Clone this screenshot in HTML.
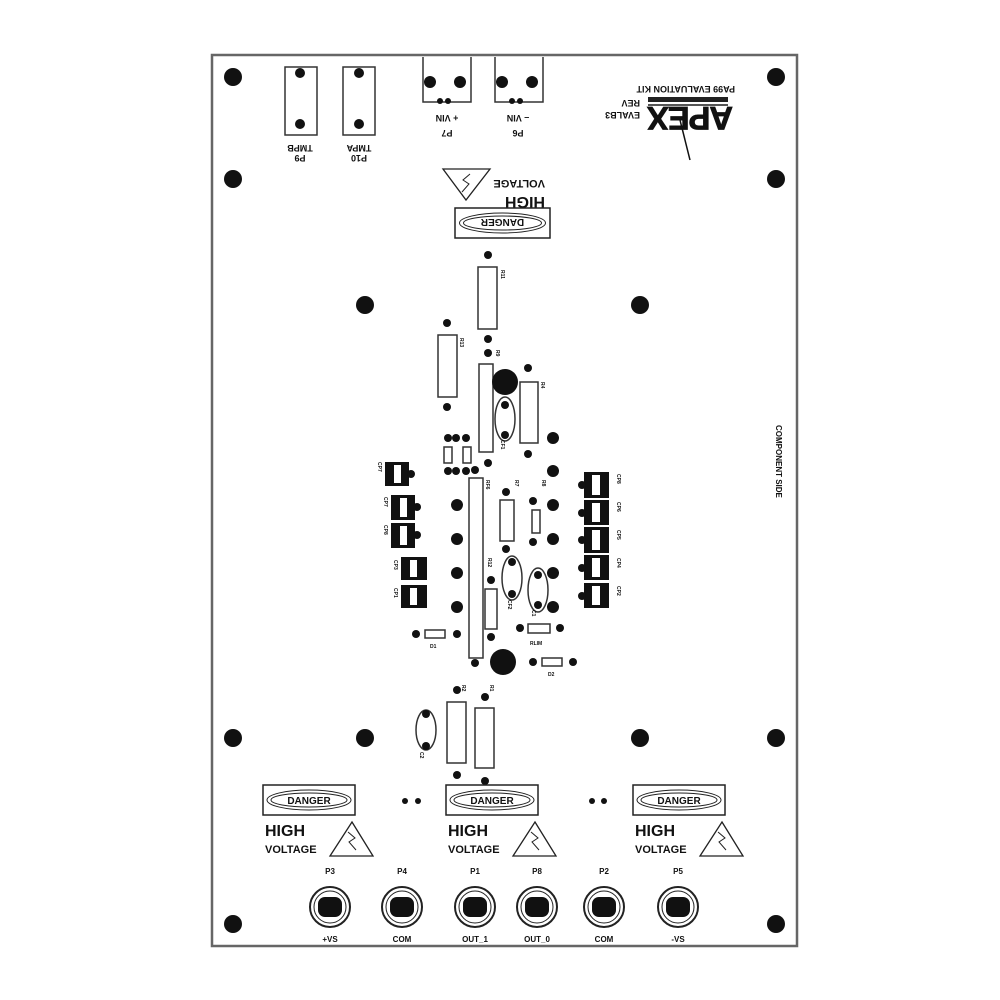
<!DOCTYPE html>
<html><head><meta charset="utf-8"><style>
html,body{margin:0;padding:0;background:#fff}
svg{display:block}
text{font-family:"Liberation Sans",sans-serif;font-weight:bold;fill:#111}
</style></head><body>
<svg width="1000" height="1000" viewBox="0 0 1000 1000" xmlns="http://www.w3.org/2000/svg">
<rect width="1000" height="1000" fill="#fff"/>
<rect x="212" y="55" width="585" height="891" fill="none" stroke="#666" stroke-width="2.5"/>
<g fill="#111">
<circle cx="233" cy="77" r="9"/><circle cx="776" cy="77" r="9"/>
<circle cx="233" cy="179" r="9"/><circle cx="776" cy="179" r="9"/>
<circle cx="233" cy="738" r="9"/><circle cx="776" cy="738" r="9"/>
<circle cx="233" cy="924" r="9"/><circle cx="776" cy="924" r="9"/>
<circle cx="365" cy="305" r="9"/><circle cx="640" cy="305" r="9"/>
<circle cx="365" cy="738" r="9"/><circle cx="640" cy="738" r="9"/>
</g>
<g fill="none" stroke="#333" stroke-width="1.5">
<rect x="285" y="67" width="32" height="68"/><rect x="343" y="67" width="32" height="68"/>
<path d="M423 57V102H471V57M495 57V102H543V57"/>
</g>
<g fill="#111">
<circle cx="300" cy="73" r="5"/><circle cx="300" cy="124" r="5"/>
<circle cx="359" cy="73" r="5"/><circle cx="359" cy="124" r="5"/>
<circle cx="430" cy="82" r="6"/><circle cx="460" cy="82" r="6"/>
<circle cx="440" cy="101" r="3"/><circle cx="448" cy="101" r="3"/>
<circle cx="502" cy="82" r="6"/><circle cx="532" cy="82" r="6"/>
<circle cx="512" cy="101" r="3"/><circle cx="520" cy="101" r="3"/>
</g>
<g font-size="9">
<text transform="translate(300,145) rotate(180)" text-anchor="middle">TMPB</text>
<text transform="translate(300,155) rotate(180)" text-anchor="middle">P9</text>
<text transform="translate(359,145) rotate(180)" text-anchor="middle">TMPA</text>
<text transform="translate(359,155) rotate(180)" text-anchor="middle">P10</text>
<text transform="translate(447,115) rotate(180)" text-anchor="middle">+ VIN</text>
<text transform="translate(447,130) rotate(180)" text-anchor="middle">P7</text>
<text transform="translate(518,115) rotate(180)" text-anchor="middle">– VIN</text>
<text transform="translate(518,130) rotate(180)" text-anchor="middle">P6</text>
<text transform="translate(735,86) rotate(180)" font-size="9">PA99 EVALUATION KIT</text>
<text transform="translate(640,100) rotate(180)" font-size="9">REV</text>
<text transform="translate(640,112) rotate(180)" font-size="9">EVALB3</text>
</g>
<rect x="648" y="97" width="80" height="5" fill="#222"/>
<rect x="648" y="104" width="80" height="2" fill="#555"/>
<text transform="translate(733,107) rotate(180)" font-size="32" font-weight="900" style="letter-spacing:-1px" fill="#111" stroke="#111" stroke-width="0.8" textLength="85" lengthAdjust="spacingAndGlyphs">APEX</text>
<line x1="680" y1="120" x2="690" y2="160" stroke="#111" stroke-width="1.5"/>
<path d="M443 169H490L466 200Z" fill="none" stroke="#222" stroke-width="1.3"/>
<path d="M470 174L463 180L469 184L462 192" fill="none" stroke="#222"/>
<text transform="translate(545,197) rotate(180)" font-size="16" font-weight="normal">HIGH</text>
<text transform="translate(545,180) rotate(180)" font-size="11">VOLTAGE</text>
<g transform="translate(455,208)">
<rect width="95" height="30" fill="none" stroke="#222" stroke-width="1.5"/>
<ellipse cx="47.5" cy="15" rx="43" ry="10" fill="none" stroke="#222"/>
<ellipse cx="47.5" cy="15" rx="39" ry="7" fill="none" stroke="#222"/>
<text transform="translate(47.5,11) rotate(180)" text-anchor="middle" font-size="10" font-weight="normal">DANGER</text>
</g>
<g fill="none" stroke="#333" stroke-width="1.5">
<rect x="478" y="267" width="19" height="62"/>
<rect x="438" y="335" width="19" height="62"/>
<rect x="479" y="364" width="14" height="88"/>
<rect x="520" y="382" width="18" height="61"/>
<ellipse cx="505" cy="419" rx="10" ry="22"/>
<rect x="469" y="478" width="14" height="180"/>
<rect x="500" y="500" width="14" height="41"/>
<rect x="532" y="510" width="8" height="23"/>
<ellipse cx="512" cy="578" rx="10" ry="22"/>
<ellipse cx="538" cy="590" rx="10" ry="22"/>
<rect x="485" y="589" width="12" height="40"/>
<rect x="528" y="624" width="22" height="9"/>
<rect x="425" y="630" width="20" height="8"/>
<rect x="542" y="658" width="20" height="8"/>
<ellipse cx="426" cy="730" rx="10" ry="20"/>
<rect x="447" y="702" width="19" height="61"/>
<rect x="475" y="708" width="19" height="60"/>
<rect x="444" y="447" width="8" height="16"/>
<rect x="463" y="447" width="8" height="16"/>
</g>
<g fill="#111">
<circle cx="488" cy="255" r="4"/><circle cx="447" cy="323" r="4"/><circle cx="447" cy="407" r="4"/>
<circle cx="488" cy="339" r="4"/><circle cx="488" cy="353" r="4"/><circle cx="488" cy="463" r="4"/>
<circle cx="505" cy="382" r="13"/><circle cx="505" cy="405" r="4"/><circle cx="505" cy="435" r="4"/>
<circle cx="528" cy="368" r="4"/><circle cx="528" cy="454" r="4"/>
<circle cx="553" cy="438" r="6"/><circle cx="553" cy="471" r="6"/>
<circle cx="448" cy="438" r="4"/><circle cx="456" cy="438" r="4"/><circle cx="466" cy="438" r="4"/>
<circle cx="448" cy="471" r="4"/><circle cx="456" cy="471" r="4"/><circle cx="466" cy="471" r="4"/><circle cx="475" cy="470" r="4"/>
<circle cx="475" cy="663" r="4"/>
<circle cx="457" cy="505" r="6"/><circle cx="457" cy="539" r="6"/><circle cx="457" cy="573" r="6"/><circle cx="457" cy="607" r="6"/>
<circle cx="553" cy="505" r="6"/><circle cx="553" cy="539" r="6"/><circle cx="553" cy="573" r="6"/><circle cx="553" cy="607" r="6"/>
<circle cx="506" cy="492" r="4"/><circle cx="506" cy="549" r="4"/>
<circle cx="533" cy="501" r="4"/><circle cx="533" cy="542" r="4"/>
<circle cx="512" cy="562" r="4"/><circle cx="512" cy="594" r="4"/>
<circle cx="538" cy="575" r="4"/><circle cx="538" cy="605" r="4"/>
<circle cx="491" cy="580" r="4"/><circle cx="491" cy="637" r="4"/>
<circle cx="520" cy="628" r="4"/><circle cx="560" cy="628" r="4"/>
<circle cx="416" cy="634" r="4"/><circle cx="457" cy="634" r="4"/>
<circle cx="503" cy="662" r="13"/>
<circle cx="533" cy="662" r="4"/><circle cx="573" cy="662" r="4"/>
<circle cx="426" cy="714" r="4"/><circle cx="426" cy="746" r="4"/>
<circle cx="457" cy="690" r="4"/><circle cx="485" cy="697" r="4"/>
<circle cx="457" cy="775" r="4"/><circle cx="485" cy="781" r="4"/>
<circle cx="405" cy="801" r="3"/><circle cx="418" cy="801" r="3"/>
<circle cx="592" cy="801" r="3"/><circle cx="604" cy="801" r="3"/>
</g>
<g>
<g transform="translate(385,462)"><rect width="24" height="24" fill="#111"/><rect x="9" y="3" width="7" height="18" fill="#fff"/><circle cx="26" cy="12" r="4" fill="#111"/></g>
<g transform="translate(391,495)"><rect width="24" height="25" fill="#111"/><rect x="9" y="3" width="7" height="19" fill="#fff"/><circle cx="26" cy="12" r="4" fill="#111"/></g>
<g transform="translate(391,523)"><rect width="24" height="25" fill="#111"/><rect x="9" y="3" width="7" height="19" fill="#fff"/><circle cx="26" cy="12" r="4" fill="#111"/></g>
<g transform="translate(401,557)"><rect width="26" height="23" fill="#111"/><rect x="9" y="3" width="7" height="17" fill="#fff"/></g>
<g transform="translate(401,585)"><rect width="26" height="23" fill="#111"/><rect x="9" y="3" width="7" height="17" fill="#fff"/></g>
<g transform="translate(584,472)"><rect width="25" height="26" fill="#111"/><rect x="8" y="3" width="8" height="20" fill="#fff"/><circle cx="-2" cy="13" r="4" fill="#111"/></g>
<g transform="translate(584,500)"><rect width="25" height="25" fill="#111"/><rect x="8" y="3" width="8" height="19" fill="#fff"/><circle cx="-2" cy="13" r="4" fill="#111"/></g>
<g transform="translate(584,527)"><rect width="25" height="26" fill="#111"/><rect x="8" y="3" width="8" height="20" fill="#fff"/><circle cx="-2" cy="13" r="4" fill="#111"/></g>
<g transform="translate(584,555)"><rect width="25" height="25" fill="#111"/><rect x="8" y="3" width="8" height="19" fill="#fff"/><circle cx="-2" cy="13" r="4" fill="#111"/></g>
<g transform="translate(584,583)"><rect width="25" height="25" fill="#111"/><rect x="8" y="3" width="8" height="19" fill="#fff"/><circle cx="-2" cy="13" r="4" fill="#111"/></g>
</g>
<g font-size="5">
<text transform="translate(501,270) rotate(90)">R11</text>
<text transform="translate(460,338) rotate(90)">R13</text>
<text transform="translate(496,350) rotate(90)">R9</text>
<text transform="translate(541,382) rotate(90)">R4</text>
<text transform="translate(501,440) rotate(90)">CF1</text>
<text transform="translate(486,480) rotate(90)">RF6</text>
<text transform="translate(515,480) rotate(90)">R7</text>
<text transform="translate(542,480) rotate(90)">R8</text>
<text transform="translate(488,558) rotate(90)">R12</text>
<text transform="translate(508,600) rotate(90)">CF2</text>
<text transform="translate(532,610) rotate(90)">C1</text>
<text transform="translate(530,645)">RLIM</text>
<text transform="translate(430,648)">D1</text>
<text transform="translate(548,676)">D2</text>
<text transform="translate(462,685) rotate(90)">R2</text>
<text transform="translate(490,685) rotate(90)">R1</text>
<text transform="translate(420,752) rotate(90)">C2</text>
<text transform="translate(378,462) rotate(90)">CP7</text>
<text transform="translate(384,497) rotate(90)">CP7</text>
<text transform="translate(384,525) rotate(90)">CP8</text>
<text transform="translate(394,560) rotate(90)">CP3</text>
<text transform="translate(394,588) rotate(90)">CP1</text>
<text transform="translate(617,474) rotate(90)">CP8</text>
<text transform="translate(617,502) rotate(90)">CP6</text>
<text transform="translate(617,530) rotate(90)">CP5</text>
<text transform="translate(617,558) rotate(90)">CP4</text>
<text transform="translate(617,586) rotate(90)">CP2</text>
</g>
<text transform="translate(776,425) rotate(90)" font-size="8">COMPONENT SIDE</text>
<g id="hv">
<rect x="263" y="785" width="92" height="30" fill="none" stroke="#222" stroke-width="1.5"/>
<ellipse cx="309" cy="800" rx="42" ry="10" fill="none" stroke="#222"/>
<ellipse cx="309" cy="800" rx="38" ry="7" fill="none" stroke="#222"/>
<text x="309" y="804" text-anchor="middle" font-size="10" font-weight="normal">DANGER</text>
<text x="265" y="836" font-size="16" font-weight="normal">HIGH</text>
<text x="265" y="853" font-size="11">VOLTAGE</text>
<path d="M352 822L330 856H373Z" fill="none" stroke="#222" stroke-width="1.3"/>
<path d="M348 832L355 838L349 842L356 850" fill="none" stroke="#222"/>
</g>
<use href="#hv" transform="translate(183,0)"/>
<use href="#hv" transform="translate(370,0)"/>
<g font-size="8">
<g transform="translate(330,907)"><circle r="20" fill="none" stroke="#222" stroke-width="2"/><circle r="16" fill="none" stroke="#222"/><rect x="-12" y="-10" width="24" height="20" rx="7" fill="#111"/><text y="-33" text-anchor="middle">P3</text><text y="35" text-anchor="middle">+VS</text></g>
<g transform="translate(402,907)"><circle r="20" fill="none" stroke="#222" stroke-width="2"/><circle r="16" fill="none" stroke="#222"/><rect x="-12" y="-10" width="24" height="20" rx="7" fill="#111"/><text y="-33" text-anchor="middle">P4</text><text y="35" text-anchor="middle">COM</text></g>
<g transform="translate(475,907)"><circle r="20" fill="none" stroke="#222" stroke-width="2"/><circle r="16" fill="none" stroke="#222"/><rect x="-12" y="-10" width="24" height="20" rx="7" fill="#111"/><text y="-33" text-anchor="middle">P1</text><text y="35" text-anchor="middle">OUT_1</text></g>
<g transform="translate(537,907)"><circle r="20" fill="none" stroke="#222" stroke-width="2"/><circle r="16" fill="none" stroke="#222"/><rect x="-12" y="-10" width="24" height="20" rx="7" fill="#111"/><text y="-33" text-anchor="middle">P8</text><text y="35" text-anchor="middle">OUT_0</text></g>
<g transform="translate(604,907)"><circle r="20" fill="none" stroke="#222" stroke-width="2"/><circle r="16" fill="none" stroke="#222"/><rect x="-12" y="-10" width="24" height="20" rx="7" fill="#111"/><text y="-33" text-anchor="middle">P2</text><text y="35" text-anchor="middle">COM</text></g>
<g transform="translate(678,907)"><circle r="20" fill="none" stroke="#222" stroke-width="2"/><circle r="16" fill="none" stroke="#222"/><rect x="-12" y="-10" width="24" height="20" rx="7" fill="#111"/><text y="-33" text-anchor="middle">P5</text><text y="35" text-anchor="middle">-VS</text></g>
</g>
</svg>
</body></html>
